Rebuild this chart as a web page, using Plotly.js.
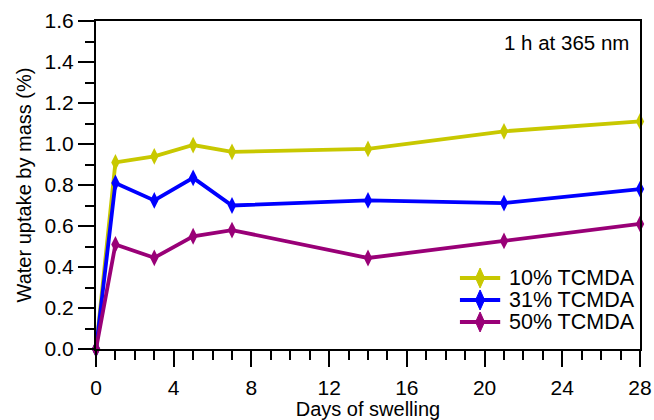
<!DOCTYPE html>
<html><head><meta charset="utf-8">
<script src="https://cdn.plot.ly/plotly-3.0.1.min.js"></script>
<style>html,body{margin:0;padding:0;background:#fff}#c{width:654px;height:420px}</style>
</head><body><div id="c"></div>
<script>
const days = [0, 1, 3, 5, 7, 14, 21, 28];
const tcmda10 = [0, 0.91, 0.94, 0.995, 0.962, 0.976, 1.062, 1.11];
const tcmda31 = [0, 0.81, 0.725, 0.835, 0.70, 0.725, 0.712, 0.78];
const tcmda50 = [0, 0.51, 0.445, 0.55, 0.58, 0.444, 0.527, 0.61];
const names = ['10% TCMDA', '31% TCMDA', '50% TCMDA'];
const colors = ['#c8c800', '#0000ff', '#990077'];
const series = [tcmda10, tcmda31, tcmda50];
const FONT = 'Liberation Sans, Arial, sans-serif';

const traces = series.map((ys, i) => ({
  x: days, y: ys, name: names[i], type: 'scatter', mode: 'lines+markers',
  line: {color: colors[i], width: 3.8},
  marker: {symbol: 'diamond-tall', size: 12, color: colors[i]},
  cliponaxis: false, showlegend: false
}));

const axisCommon = {
  showline: true, linecolor: '#000', linewidth: 2, mirror: true,
  ticks: 'outside', ticklen: 16, tickwidth: 2, tickcolor: '#000',
  showgrid: false, zeroline: false,
  tickfont: {family: FONT, size: 21, color: '#000'}
};

// manual legend (paper coordinates)
const legX0 = 0.669, legX1 = 0.743, legTextX = 0.7555;
const legY = [0.2165, 0.1494, 0.0823];
const shapes = [];
const annotations = [{
  text: '1 h at 365 nm', xref: 'paper', yref: 'paper', x: 0.9835, y: 0.933,
  xanchor: 'right', yanchor: 'middle', showarrow: false,
  font: {family: FONT, size: 20.5, color: '#000'}
}];
names.forEach((n, i) => {
  shapes.push({type: 'line', xref: 'paper', yref: 'paper', x0: legX0, x1: legX1, y0: legY[i], y1: legY[i],
    line: {color: colors[i], width: 3.8}});
  shapes.push({type: 'path', xref: 'paper', yref: 'paper', xsizemode: 'pixel', ysizemode: 'pixel',
    xanchor: (legX0 + legX1) / 2, yanchor: legY[i],
    path: 'M 0 10 L 4.5 0 L 0 -10 L -4.5 0 Z', fillcolor: colors[i], line: {color: colors[i], width: 1}});
  annotations.push({text: n, xref: 'paper', yref: 'paper', x: legTextX, y: legY[i],
    xanchor: 'left', yanchor: 'middle', showarrow: false,
    font: {family: FONT, size: 21.5, color: '#000'}});
});

const layout = {
  width: 654, height: 420,
  margin: {l: 96, r: 14, t: 21, b: 71},
  paper_bgcolor: '#fff', plot_bgcolor: '#fff',
  font: {family: FONT, color: '#000'},
  showlegend: false,
  xaxis: Object.assign({}, axisCommon, {
    range: [0, 28], tick0: 0, dtick: 4, ticklabelstandoff: 3,
    minor: {dtick: 1, ticklen: 9, tickwidth: 2, tickcolor: '#000', ticks: 'outside', showgrid: false},
    title: {text: 'Days of swelling', font: {family: FONT, size: 20, color: '#000'}, standoff: 0}
  }),
  yaxis: Object.assign({}, axisCommon, {
    range: [0, 1.6], tick0: 0, dtick: 0.2, tickformat: '.1f',
    minor: {dtick: 0.1, ticklen: 9, tickwidth: 2, tickcolor: '#000', ticks: 'outside', showgrid: false},
    title: {text: 'Water uptake by mass (%)', font: {family: FONT, size: 20, color: '#000'}, standoff: 8}
  }),
  shapes: shapes,
  annotations: annotations
};

Plotly.newPlot('c', traces, layout, {displayModeBar: false, staticPlot: true});
</script>
</body></html>
